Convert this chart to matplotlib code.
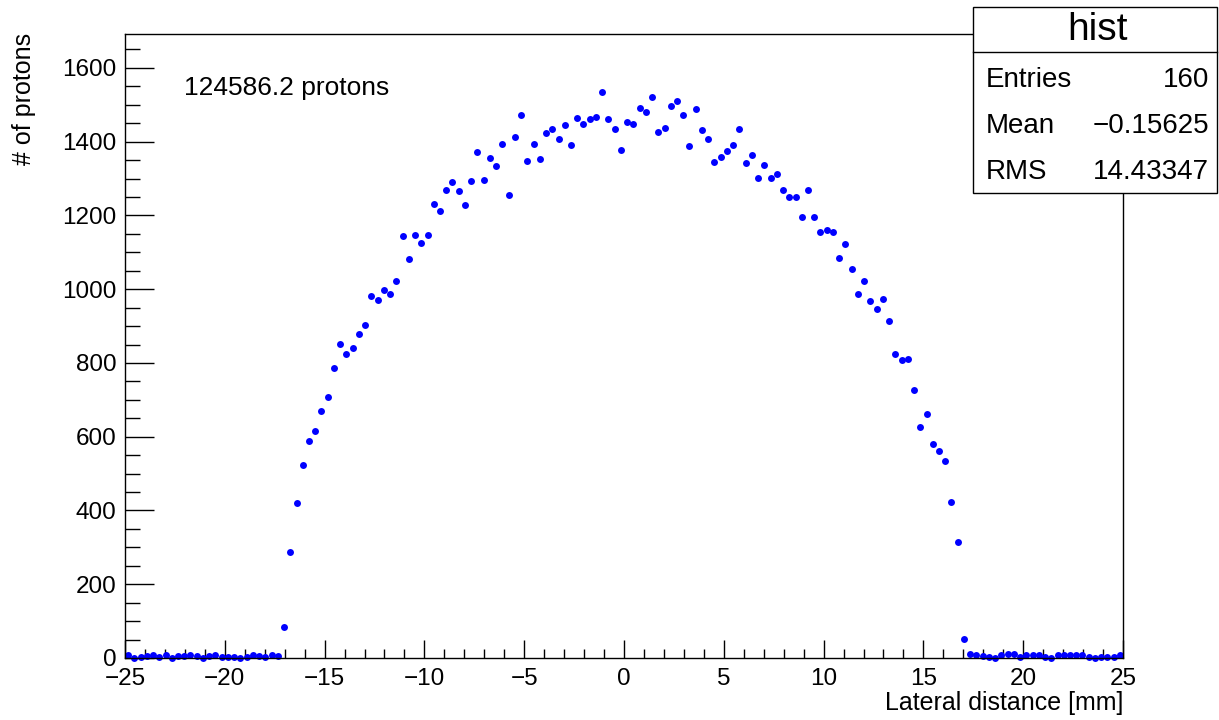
import numpy as np
import matplotlib
matplotlib.use("Agg")
import matplotlib.pyplot as plt
from matplotlib.ticker import MultipleLocator

# histogram definition
NBINS = 160
XMIN, XMAX = -25.0, 25.0

# bin contents
left_tail = [9, 0, 4, 5, 7, 3, 8, 0, 5, 5, 7, 5, 1, 5, 7, 2, 4, 2, 1, 2, 8, 5, 2, 8, 6]
core = [83, 287, 420, 523, 588, 615, 670, 707, 786, 852,
        824, 841, 879, 904, 981, 970, 998, 986, 1023, 1144,
        1081, 1147, 1125, 1147, 1232, 1212, 1270, 1290, 1267, 1228,
        1294, 1373, 1297, 1355, 1333, 1395, 1255, 1413, 1473, 1347,
        1393, 1353, 1424, 1434, 1408, 1446, 1391, 1463, 1449, 1461,
        1468, 1534, 1462, 1435, 1377, 1454, 1447, 1492, 1481, 1521,
        1426, 1437, 1498, 1510, 1473, 1388, 1488, 1431, 1406, 1346,
        1358, 1374, 1390, 1435, 1342, 1363, 1302, 1336, 1302, 1313,
        1270, 1249, 1249, 1197, 1269, 1197, 1156, 1161, 1156, 1084,
        1123, 1054, 988, 1021, 967, 946, 974, 914, 824, 808,
        812, 726, 627, 661, 580, 561, 533, 424, 315, 52]
right_tail = [10, 9, 6, 2, 0, 7, 10, 10, 3, 8, 9, 8, 4, 1, 7, 8, 7, 9, 7, 2, 0, 2, 2, 4, 8]

total_label = "124586.2 protons"
stats_title = "hist"
stats_rows = [("Entries", "160"), ("Mean", "\u22120.15625"), ("RMS", "14.43347")]

counts = np.array(left_tail + core + right_tail, dtype=float)
edges = np.linspace(XMIN, XMAX, NBINS + 1)
centers = 0.5 * (edges[:-1] + edges[1:])

plt.rcParams['font.family'] = ['Liberation Sans', 'DejaVu Sans']

W, H = 1219, 720
fig = plt.figure(figsize=(W / 100, H / 100), dpi=100)

def fx(px):
    return px / W

def fy(py):
    return 1 - py / H

ax = fig.add_axes([fx(125), fy(658), fx(1123) - fx(125), fy(34) - fy(658)])
ax.plot(centers, counts, 'o', color='#0000ff', markersize=5, markeredgewidth=0, clip_on=False)

ax.set_xlim(XMIN, XMAX)
ax.set_ylim(0, 1692)

ax.xaxis.set_major_locator(MultipleLocator(5))
ax.xaxis.set_minor_locator(MultipleLocator(1))
ax.yaxis.set_major_locator(MultipleLocator(200))
ax.yaxis.set_minor_locator(MultipleLocator(50))

ax.tick_params(axis='x', which='major', direction='in', length=13, width=1, labelsize=17.5, pad=7)
ax.tick_params(axis='x', which='minor', direction='in', length=6.5, width=1)
ax.tick_params(axis='y', which='major', direction='in', length=21, width=1, labelsize=17.5, pad=6)
ax.tick_params(axis='y', which='minor', direction='in', length=10.5, width=1)
for s in ax.spines.values():
    s.set_linewidth(1)

ax.set_xticks([-25, -20, -15, -10, -5, 0, 5, 10, 15, 20, 25])
ax.set_xticklabels(["\u221225", "\u221220", "\u221215", "\u221210", "\u22125", "0", "5", "10", "15", "20", "25"])

fig.text(fx(1123), fy(703), "Lateral distance [mm]", ha='right', va='center', fontsize=18)
fig.text(fx(24), fy(33), "# of protons", ha='center', va='top', rotation=90, fontsize=18)

fig.text(fx(184), fy(88), total_label, ha='left', va='center', fontsize=19)

# stats box
box_l, box_r = fx(973), fx(1217)
box_t, box_sep, box_b = fy(7), fy(52), fy(193)
fig.patches.append(plt.Rectangle((box_l, box_b), box_r - box_l, box_t - box_b,
                                 transform=fig.transFigure, fill=True, facecolor='white',
                                 edgecolor='black', linewidth=1, zorder=5))
fig.lines.append(plt.Line2D([box_l, box_r], [box_sep, box_sep], transform=fig.transFigure,
                            color='black', linewidth=1, zorder=6))
fig.text(fx(1097), fy(30), stats_title, ha='center', va='center', fontsize=28, zorder=7)
for k, (name, val) in enumerate(stats_rows):
    yy = fy(80 + 46 * k)
    fig.text(fx(986), yy, name, ha='left', va='center', fontsize=20, zorder=7)
    fig.text(fx(1209), yy, val, ha='right', va='center', fontsize=20, zorder=7)

fig.savefig("out.png", dpi=100)
